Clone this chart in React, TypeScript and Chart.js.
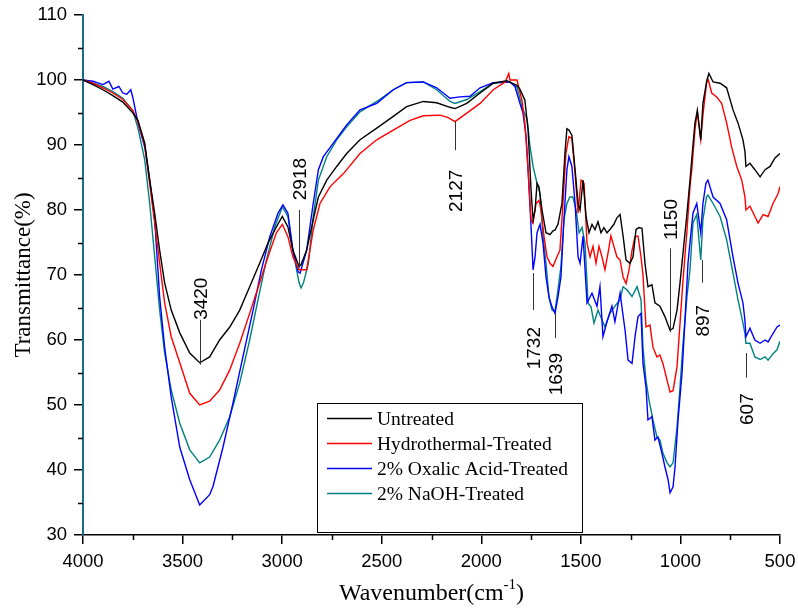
import React, { useEffect, useRef } from "react";
import { Chart, registerables } from "chart.js";

Chart.register(...registerables);

// ---------- data ----------
const seriesNames = ["Untreated", "Hydrothermal-Treated", "2% Oxalic Acid-Treated", "2% NaOH-Treated"];
const seriesColors = ["#000000", "#ff0000", "#0000ff", "#008080"];

const untreatedWn = [4000,3950,3900,3850,3800,3749,3724,3690,3665,3640,3615,3590,3557,3514,3464,3414,3364,3314,3263,3213,3163,3113,3071,3029,2999,2971,2946,2915,2905,2877,2844,2818,2776,2726,2676,2609,2525,2442,2375,2291,2224,2157,2132,2073,2006,1940,1872,1822,1806,1781,1765,1750,1740,1730,1720,1710,1695,1675,1655,1640,1630,1615,1595,1580,1570,1560,1545,1529,1514,1504,1489,1474,1459,1444,1429,1414,1399,1384,1369,1354,1334,1319,1303,1288,1273,1253,1238,1223,1208,1193,1178,1163,1143,1128,1103,1078,1052,1037,1017,1002,987,967,952,937,927,915,898,887,867,857,836,801,768,736,711,686,676,671,651,626,600,575,550,525,500];
const untreatedT = [100,99.3,98.5,97.6,96.6,94.9,93.8,90.3,84.6,79.5,73.8,68.8,64.6,61.1,58,56.5,57.4,60,62,64.6,68.2,71.8,74.9,77.4,79,77.4,73.8,71.3,71.6,73.8,78.5,82,84.6,86.7,88.7,90.8,92.6,94.4,95.9,96.7,96.5,95.8,95.6,96.4,98,99.5,99.9,99.2,98.6,96.9,92.3,83,78.5,80,84.1,83.5,80,76.5,76.2,76.8,76.9,77.8,81,88.7,92.5,92.3,91.5,86.2,81,80,84.6,79,76.5,77.8,77,78.2,76.5,77.3,76.5,77,77.8,78.8,79.3,76,72.3,71.8,72.8,77,77.3,77.2,71.8,68.2,68.5,65.7,65.2,63.6,61.5,61.8,64.6,68.8,73.4,79.5,84.6,90,93.4,95.3,90.8,96.4,100,101,99.7,99.5,98.8,95.4,93.4,90.8,89,86.7,87.2,86.2,85.1,86.2,86.7,88,88.7];

const hydroWn = [4000,3950,3900,3850,3800,3749,3724,3690,3665,3640,3615,3590,3557,3514,3464,3414,3364,3314,3263,3213,3163,3113,3071,3029,2999,2971,2946,2915,2877,2844,2810,2759,2692,2609,2525,2442,2358,2291,2207,2166,2132,2073,2006,1940,1880,1862,1856,1821,1796,1781,1765,1750,1740,1725,1710,1700,1685,1670,1655,1640,1620,1605,1590,1575,1560,1545,1529,1514,1499,1484,1469,1454,1439,1424,1409,1394,1379,1364,1349,1334,1319,1303,1288,1273,1258,1243,1228,1213,1198,1188,1173,1153,1138,1118,1103,1088,1067,1052,1037,1017,1002,987,967,952,943,927,915,898,887,869,860,843,818,793,768,743,717,692,676,671,651,626,610,585,560,535,510,500];
const hydroT = [100,99.5,98.8,98,97,95.3,93.5,90,84,78,71.8,65.7,60.5,56.5,51.8,50,50.6,52.3,55.4,59.5,64.1,68.8,72.8,76.5,77.8,75.9,72.8,70.8,70.8,76.9,81,83.6,85.6,88.7,90.8,92.3,93.8,94.5,94.6,94.2,93.6,94.9,96.4,98.5,99.7,101,100,100,96.9,93.4,86.2,78.5,78,81,81.5,80,75.9,72.8,71.8,71.3,72.8,73.8,81,88.7,91.3,91,85.6,79.5,84.6,84.1,74.9,72.8,74.4,71.8,74.4,72.8,70.8,73.3,76,74.4,72.8,72.3,69.7,68.7,70.8,73.8,75.9,76,72.8,70,62,62.3,58.9,57.4,57.7,56.4,53.8,52,52.2,55.9,62.6,69.2,76.9,83.6,86.2,92.3,95.2,90.8,94.6,99.5,100,98,97.4,96.4,93.4,89.7,86.7,84.6,82,80,80.6,79,78,79.3,79,81,82.5,83.6];

const oxalicWn = [4000,3950,3900,3870,3850,3820,3800,3780,3760,3749,3724,3690,3665,3640,3615,3590,3557,3514,3464,3414,3364,3347,3297,3247,3197,3146,3104,3062,3021,2996,2971,2946,2920,2910,2877,2844,2818,2793,2743,2676,2609,2525,2442,2375,2291,2224,2157,2107,2057,2006,1940,1872,1856,1831,1806,1791,1775,1765,1750,1740,1730,1720,1705,1690,1675,1660,1645,1630,1615,1600,1585,1570,1560,1545,1529,1514,1504,1489,1469,1444,1419,1404,1389,1369,1344,1329,1303,1278,1263,1243,1228,1213,1198,1188,1173,1163,1143,1128,1113,1093,1078,1062,1052,1037,1027,1012,992,977,962,952,937,918,898,887,872,862,836,801,768,736,711,686,676,671,651,626,600,575,560,535,515,500];
const oxalicT = [100,99.8,99.3,99.8,98.6,99,98,97.8,98.5,97.2,93.4,89.7,84.6,78.5,66.6,58.9,51.2,43.5,38.5,34.6,36.2,37.5,43.5,50.3,57.4,64.6,70.8,75.9,79.5,80.8,79.5,73.8,70.5,70.3,73.8,81,86.2,88.2,90.3,93.1,95.4,96.4,98.5,99.6,99.7,98.8,97.2,97.4,97.5,98.8,99.6,99.7,99.7,99,96.4,95,91.3,86.2,77.4,70.8,72.8,76.5,77.8,74.9,69.7,66.6,65.1,64.1,66.6,69.7,78.5,86.2,88.2,86.7,81,72.8,71.8,76,65.7,67.2,65.2,68.2,60.5,62.8,65.2,62.8,67.2,61.5,56.9,56.4,60.5,63.6,64.1,56.4,52.8,47.7,48.2,44.6,45.1,42.6,40.5,38.5,36.5,37.4,40.5,47.7,54.9,63.1,71.8,75,79.5,81,76.5,81,84.1,84.6,82,81,78.5,72.8,68.8,65.7,63,60.5,61.8,60,59.5,60,59.7,61,62,62.3];

const naohWn = [4000,3950,3900,3850,3800,3749,3724,3690,3665,3640,3615,3590,3557,3514,3464,3414,3364,3314,3263,3213,3163,3121,3079,3037,2999,2971,2946,2915,2905,2893,2868,2844,2818,2776,2726,2676,2609,2525,2442,2375,2291,2224,2157,2132,2073,2006,1940,1872,1856,1821,1791,1770,1755,1740,1720,1705,1690,1675,1660,1645,1630,1615,1600,1585,1570,1555,1540,1524,1509,1494,1479,1464,1449,1434,1414,1394,1379,1354,1329,1303,1288,1268,1243,1218,1198,1188,1173,1158,1138,1118,1103,1088,1067,1052,1037,1017,1002,987,967,952,937,918,898,887,869,862,836,801,768,736,711,686,676,671,651,626,600,575,560,535,515,500];
const naohT = [100,99.5,99,98.2,97.2,95.2,92.6,87.7,81,72.8,64.6,58,52.3,47.2,43.1,41.1,42,44.6,48.2,53.4,60,66.2,72.3,77.4,80.5,79,73.8,68.8,68,68.8,71.8,78.9,84.6,88.2,90.8,92.8,95.1,96.7,98.5,99.6,99.7,98.5,96.7,96.4,97,98.2,99.5,99.7,99.7,98.9,95.4,94,89.7,86.7,84.1,82.5,76,71.8,66.6,64.6,64.4,67.7,71.3,78.5,81,82,82,80,76.5,77.3,74.9,65.7,65.1,62.6,64.6,63.1,62,64.1,65.2,66.2,68.2,67.7,66.7,68.2,66.2,58.9,53.8,50.8,47.7,45.1,44.6,42.6,41.1,40.5,41.1,46.6,52.8,59.5,66.7,70.8,78,79.3,72.3,78.5,82,82.3,81,79,75.4,70.3,66.2,62.6,61,59.5,59.5,57.4,57,57.4,56.9,57.9,58.5,59.8];

// peak annotations (wavenumber position, marker line from/to in %T, label anchor in %T)
const peakLabels = ["3420", "2918", "2127", "1732", "1639", "1150", "897", "607"];
const peakWavenumbers = [3412, 2915, 2132, 1740, 1628, 1052, 890, 671];
const peakLineFrom = [56.2, 71.1, 93.6, 70.3, 64.2, 61.2, 72.3, 58.0];
const peakLineTo = [63.1, 80.0, 89.2, 64.6, 60.3, 74.1, 68.8, 54.2];
const peakLabelAt = [63.1, 81.5, 86.2, 62.0, 58.0, 75.4, 65.4, 51.8];

const xTitleMain = "Wavenumber(cm";
const xTitleSup = "-1";
const xTitleEnd = ")";
const yTitle = "Transmittance(%)";

const SANS = "'Liberation Sans', Arial, sans-serif";
const SERIF = "'Liberation Serif', 'Times New Roman', serif";

const extrasPlugin = {
  id: "ftirExtras",
  afterDraw(chart: any) {
    const ctx = chart.ctx as CanvasRenderingContext2D;
    const xs = chart.scales.x;
    const ys = chart.scales.y;
    const area = chart.chartArea;
    ctx.save();

    // minor ticks
    ctx.strokeStyle = "#000";
    ctx.lineWidth = 1.5;
    const xt = xs.ticks.map((t: any) => t.value);
    for (let i = 0; i < xt.length - 1; i++) {
      const px = Math.round(xs.getPixelForValue((xt[i] + xt[i + 1]) / 2)) + 0.5;
      ctx.beginPath();
      ctx.moveTo(px, area.bottom);
      ctx.lineTo(px, area.bottom + 5);
      ctx.stroke();
    }
    const yt = ys.ticks.map((t: any) => t.value);
    for (let i = 0; i < yt.length - 1; i++) {
      const py = Math.round(ys.getPixelForValue((yt[i] + yt[i + 1]) / 2)) + 0.5;
      ctx.beginPath();
      ctx.moveTo(area.left, py);
      ctx.lineTo(area.left - 5, py);
      ctx.stroke();
    }

    // peak annotations
    ctx.strokeStyle = "#333";
    ctx.lineWidth = 1;
    ctx.fillStyle = "#000";
    ctx.font = `19px ${SANS}`;
    ctx.textBaseline = "middle";
    for (let i = 0; i < peakLabels.length; i++) {
      const px = Math.round(xs.getPixelForValue(peakWavenumbers[i])) + 0.5;
      const y1 = ys.getPixelForValue(peakLineFrom[i]);
      const y2 = ys.getPixelForValue(peakLineTo[i]);
      ctx.beginPath();
      ctx.moveTo(px, y1);
      ctx.lineTo(px, y2);
      ctx.stroke();
      const above = peakLabelAt[i] > peakLineFrom[i];
      const ly = ys.getPixelForValue(peakLabelAt[i]);
      ctx.save();
      ctx.translate(px + 1, ly);
      ctx.rotate(-Math.PI / 2);
      ctx.textAlign = above ? "left" : "right";
      ctx.fillText(peakLabels[i], 0, 0);
      ctx.restore();
    }

    // legend box
    const lx = 317, ly0 = 403, lw = 265, lh = 129;
    ctx.fillStyle = "#fff";
    ctx.fillRect(lx, ly0, lw, lh);
    ctx.strokeStyle = "#000";
    ctx.lineWidth = 1;
    ctx.strokeRect(lx + 0.5, ly0 + 0.5, lw, lh);
    ctx.font = `19.5px ${SERIF}`;
    ctx.textAlign = "left";
    ctx.textBaseline = "middle";
    for (let i = 0; i < seriesNames.length; i++) {
      const ry = 418.5 + i * 25;
      ctx.strokeStyle = seriesColors[i];
      ctx.lineWidth = 1.5;
      ctx.beginPath();
      ctx.moveTo(327, ry);
      ctx.lineTo(372, ry);
      ctx.stroke();
      ctx.fillStyle = "#000";
      ctx.fillText(seriesNames[i], 377, ry + 1);
    }

    // x title with superscript
    const mainFont = `24px ${SERIF}`;
    const supFont = `15px ${SERIF}`;
    ctx.font = mainFont;
    const w1 = ctx.measureText(xTitleMain).width;
    const w3 = ctx.measureText(xTitleEnd).width;
    ctx.font = supFont;
    const w2 = ctx.measureText(xTitleSup).width;
    const total = w1 + w2 + w3;
    const cx = (area.left + area.right) / 2;
    let tx = cx - total / 2;
    const baseY = 600;
    ctx.fillStyle = "#000";
    ctx.textBaseline = "alphabetic";
    ctx.textAlign = "left";
    ctx.font = mainFont;
    ctx.fillText(xTitleMain, tx, baseY);
    tx += w1;
    ctx.font = supFont;
    ctx.fillText(xTitleSup, tx, baseY - 11);
    tx += w2;
    ctx.font = mainFont;
    ctx.fillText(xTitleEnd, tx, baseY);

    // y title
    ctx.save();
    ctx.translate(24, (area.top + area.bottom) / 2);
    ctx.rotate(-Math.PI / 2);
    ctx.font = `23px ${SERIF}`;
    ctx.textAlign = "center";
    ctx.textBaseline = "middle";
    ctx.fillText(yTitle, 0, 0);
    ctx.restore();

    ctx.restore();
  },
};

export default function App() {
  const canvasRef = useRef<HTMLCanvasElement | null>(null);

  useEffect(() => {
    if (!canvasRef.current) return;
    const wnArrays = [untreatedWn, hydroWn, oxalicWn, naohWn];
    const tArrays = [untreatedT, hydroT, oxalicT, naohT];
    const datasets = seriesNames.map((name, i) => ({
      label: name,
      data: wnArrays[i].map((w, j) => ({ x: w, y: tArrays[i][j] })),
      borderColor: seriesColors[i],
      backgroundColor: seriesColors[i],
      borderWidth: 1.4,
      pointRadius: 0,
      fill: false,
      tension: 0,
    }));

    const chart = new Chart(canvasRef.current, {
      type: "line",
      data: { datasets },
      options: {
        animation: false,
        responsive: false,
        maintainAspectRatio: false,
        devicePixelRatio: 1,
        layout: { padding: { left: 0, right: 18, top: 15, bottom: 0 } },
        plugins: {
          legend: { display: false },
          tooltip: { enabled: false },
          title: { display: false },
        },
        scales: {
          x: {
            type: "linear",
            min: 500,
            max: 4000,
            reverse: true,
            afterFit: (scale: any) => {
              scale.height = 73;
              scale.paddingLeft = 0;
              scale.paddingRight = 0;
            },
            ticks: {
              stepSize: 500,
              color: "#000",
              font: { family: SANS, size: 18.5 },
              padding: 7,
              maxRotation: 0,
              callback: (v: any) => String(v),
            },
            grid: {
              display: true,
              drawOnChartArea: false,
              drawTicks: true,
              tickLength: 9,
              color: "#000",
              lineWidth: 1.5,
            },
            border: { display: true, color: "#000", width: 1.5 },
          },
          y: {
            type: "linear",
            min: 30,
            max: 110,
            afterFit: (scale: any) => {
              scale.width = 83;
              scale.paddingTop = 0;
              scale.paddingBottom = 0;
            },
            ticks: {
              stepSize: 10,
              color: "#000",
              font: { family: SANS, size: 18.5 },
              padding: 7,
              callback: (v: any) => String(v),
            },
            grid: {
              display: true,
              drawOnChartArea: false,
              drawTicks: true,
              tickLength: 9,
              color: "#000",
              lineWidth: 1.5,
            },
            border: { display: true, color: "#1b6b8c", width: 2 },
          },
        },
      },
      plugins: [extrasPlugin],
    } as any);

    return () => {
      chart.destroy();
    };
  }, []);

  return (
    <div style={{ position: "fixed", left: 0, top: 0, width: 798, height: 608, background: "#fff" }}>
      <canvas ref={canvasRef} width={798} height={608} style={{ display: "block", width: 798, height: 608 }} />
    </div>
  );
}
